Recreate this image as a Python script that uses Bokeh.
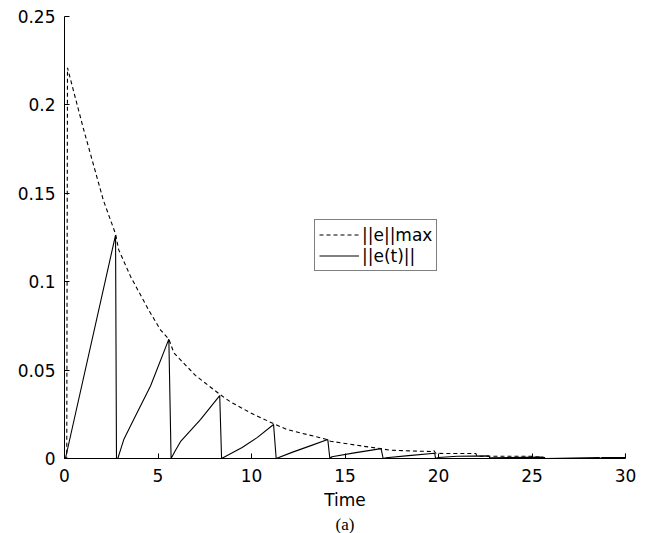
from bokeh.plotting import figure
from bokeh.models import (Range1d, FixedTicker, CustomJSTickFormatter, Legend,
                          LegendItem, Title)
from bokeh.embed import file_html
from bokeh.resources import INLINE

# ||e(t)|| (solid sawtooth)
solid_t = [0.0, 0.05, 2.73, 2.78, 2.85, 3.0, 3.17, 3.7, 4.6, 5.58, 5.7,
           5.9, 6.2, 7.27, 8.3, 8.4, 9.5, 10.3, 11.18, 11.32, 12.2, 13.1, 14.08,
           14.19, 14.3, 15.5, 16.93, 17.04, 17.2, 18.4, 19.8, 19.84, 20.0,
           21.0, 22.7, 22.75, 22.8, 25.6, 25.7, 28.6, 28.65, 28.75, 30.0, 30.0]
solid_v = [0.0, 0.0, 0.1264, 0.0, 0.0, 0.005, 0.0107, 0.022, 0.041, 0.0675,
           0.0, 0.004, 0.0095, 0.022, 0.0356, 0.0, 0.0062, 0.0118, 0.0192,
           0.0, 0.0036, 0.007, 0.0107, 0.0, 0.001, 0.0032, 0.0056, 0.0,
           0.0004, 0.0016, 0.003, 0.0, 0.0006, 0.0013, 0.0015, 0.0, 0.0004,
           0.0008, 0.0, 0.0005, 0.0, 0.0005, 0.0005, 0.003]

# ||e||max (dashed envelope)
dash_t = [0.0, 0.12, 0.16, 1.0, 2.08, 2.73, 2.9, 3.53, 4.5, 5.13, 5.58, 5.85,
          7.0, 8.34, 8.88, 9.95, 11.2, 11.9, 13.0, 14.05, 14.22, 16.0, 16.9,
          17.4, 19.0, 19.6, 19.75, 19.85, 20.3, 22.0, 22.05, 24.9, 25.6, 25.7]
dash_v = [0.0, 0.0, 0.221, 0.187, 0.146, 0.127, 0.118, 0.103, 0.084, 0.0728,
          0.0675, 0.0597, 0.047, 0.036, 0.032, 0.0258, 0.0196, 0.0164, 0.0135,
          0.0107, 0.0098, 0.0069, 0.0056, 0.0047, 0.0041, 0.0040, 0.0045,
          0.0030, 0.0028, 0.0028, 0.0013, 0.0013, 0.0006, 0.0005]

x_ticks = [0, 5, 10, 15, 20, 25, 30]
y_ticks = [0, 0.05, 0.1, 0.15, 0.2, 0.25]
legend_labels = ["||e||max", "||e(t)||"]
x_label = "Time"
caption = "(a)"

FONT = "DejaVu Sans"
FS = "17px"

p = figure(width=643, height=533, output_backend="svg", toolbar_location=None,
           x_range=Range1d(0, 30), y_range=Range1d(0, 0.25),
           min_border_left=64, min_border_right=18, min_border_top=16,
           min_border_bottom=20)
p.outline_line_color = None
p.grid.visible = False
p.background_fill_color = "white"

r_dash = p.line(dash_t, dash_v, line_color="black", line_width=1.1,
                line_dash="4 3")
r_solid = p.line(solid_t, solid_v, line_color="black", line_width=1.1)

fmt = CustomJSTickFormatter(code="return String(Number(tick.toFixed(4)));")
for ax, ticks in ((p.xaxis[0], x_ticks), (p.yaxis[0], y_ticks)):
    ax.ticker = FixedTicker(ticks=ticks)
    ax.formatter = fmt
    ax.major_tick_in = 5
    ax.major_tick_out = 0
    ax.minor_tick_line_color = None
    ax.axis_line_color = "black"
    ax.major_tick_line_color = "black"
    ax.major_label_text_font = FONT
    ax.major_label_text_font_size = FS
    ax.major_label_text_color = "black"
    ax.major_label_standoff = 9

p.xaxis.major_label_standoff = 10
p.xaxis.axis_label = x_label
p.xaxis.axis_label_text_font = FONT
p.xaxis.axis_label_text_font_size = FS
p.xaxis.axis_label_text_font_style = "normal"
p.xaxis.axis_label_text_color = "black"
p.xaxis.axis_label_standoff = 5

p.add_layout(Title(text=caption, align="center", text_font="Liberation Serif",
                   text_font_size="17px", text_font_style="normal",
                   text_color="black", standoff=0, offset=0,
                   text_line_height=0.85), "below")

legend = Legend(items=[LegendItem(label=legend_labels[0], renderers=[r_dash]),
                       LegendItem(label=legend_labels[1], renderers=[r_solid])],
                location=(250, 187), orientation="vertical",
                glyph_width=40, glyph_height=21, label_height=21,
                label_standoff=3, padding=4, spacing=0, margin=0,
                label_text_font=FONT, label_text_font_size=FS,
                label_text_color="black",
                border_line_color="black", border_line_width=1,
                background_fill_color="white", background_fill_alpha=1.0)
p.add_layout(legend, "center")

open("out.html", "w").write(file_html(p, INLINE))
